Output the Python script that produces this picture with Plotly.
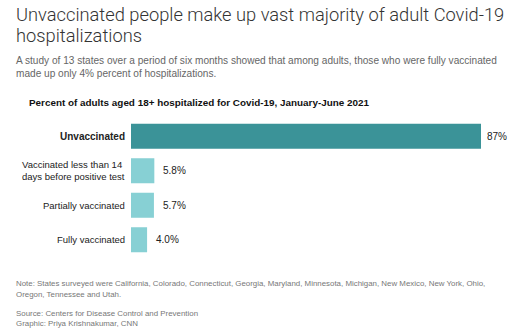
import plotly.graph_objects as go

# Share of adult Covid-19 hospitalizations by vaccination status
categories = [
    "Unvaccinated",
    "Vaccinated less than 14 days before positive test",
    "Partially vaccinated",
    "Fully vaccinated",
]
category_labels = [
    "<b>Unvaccinated</b>",
    "Vaccinated less than 14<br>days before positive test",
    "Partially vaccinated",
    "Fully vaccinated",
]
values = [87, 5.8, 5.7, 4.0]
value_labels = ["87%", "5.8%", "5.7%", "4.0%"]
colors = ["#3b9398", "#87d0d4", "#87d0d4", "#87d0d4"]

W, H = 512, 332
L, R, T, B = 131, 31, 119, 75
pw, ph = W - L - R, H - T - B


def px(x):
    return (x - L) / pw


def py(y):
    return (H - B - y) / ph


fig = go.Figure(
    go.Bar(
        x=values,
        y=categories,
        orientation="h",
        marker=dict(color=colors, line=dict(width=0)),
        hoverinfo="skip",
    )
)

fig.update_layout(
    width=W,
    height=H,
    margin=dict(l=L, r=R, t=T, b=B),
    paper_bgcolor="white",
    plot_bgcolor="white",
    bargap=0.275,
    showlegend=False,
    xaxis=dict(range=[0, 87], visible=False, fixedrange=True),
    yaxis=dict(
        autorange="reversed",
        showgrid=False,
        zeroline=False,
        showline=False,
        showticklabels=False,
        ticks="",
        fixedrange=True,
    ),
)

# category names, left-aligned block ending just before the bars
for cat, lab, in zip(categories, category_labels):
    bold = lab.startswith("<b>")
    fig.add_annotation(
        text=lab,
        x=0,
        y=cat,
        xref="x",
        yref="y",
        xanchor="right",
        yanchor="middle",
        xshift=-4,
        align="left",
        showarrow=False,
        font=dict(family="Liberation Sans", size=10 if bold else 9.5, color="#222"),
    )

# value labels at the end of each bar
for i, (cat, v, lab) in enumerate(zip(categories, values, value_labels)):
    fig.add_annotation(
        text=lab,
        x=v,
        y=cat,
        xref="x",
        yref="y",
        xanchor="left",
        yanchor="middle",
        xshift=4 if i == 0 else 7,
        showarrow=False,
        font=dict(family="Liberation Sans", size=10, color="#222"),
    )

texts = [
    # (text, x, y centre, size, colour, weight, family)
    ("Unvaccinated people make up vast majority of adult Covid-19", 14, 14, 18.3, "#333", 300, "Roboto"),
    ("hospitalizations", 14, 35, 18.3, "#333", 300, "Roboto"),
    ("A study of 13 states over a period of six months showed that among adults, those who were fully vaccinated", 14, 60, 10.1, "#666", 400, "Liberation Sans"),
    ("made up only 4% percent of hospitalizations.", 14, 73, 10.1, "#666", 400, "Liberation Sans"),
    ("<b>Percent of adults aged 18+ hospitalized for Covid-19, January-June 2021</b>", 27, 103, 9.9, "#111", 400, "Liberation Sans"),
    ("Note: States surveyed were California, Colorado, Connecticut, Georgia, Maryland, Minnesota, Michigan, New Mexico, New York, Ohio,", 14, 283, 7.9, "#777", 400, "Liberation Sans"),
    ("Oregon, Tennessee and Utah.", 14, 294, 7.9, "#777", 400, "Liberation Sans"),
    ("Source: Centers for Disease Control and Prevention", 14, 313, 7.9, "#777", 400, "Liberation Sans"),
    ("Graphic: Priya Krishnakumar, CNN", 14, 323, 7.9, "#777", 400, "Liberation Sans"),
]

for t, x, y, size, color, weight, fam in texts:
    fig.add_annotation(
        text=t,
        xref="paper",
        yref="paper",
        x=px(x),
        y=py(y),
        xanchor="left",
        yanchor="middle",
        showarrow=False,
        align="left",
        font=dict(family=fam, size=size, color=color, weight=weight),
    )

fig.write_html("out.html")
